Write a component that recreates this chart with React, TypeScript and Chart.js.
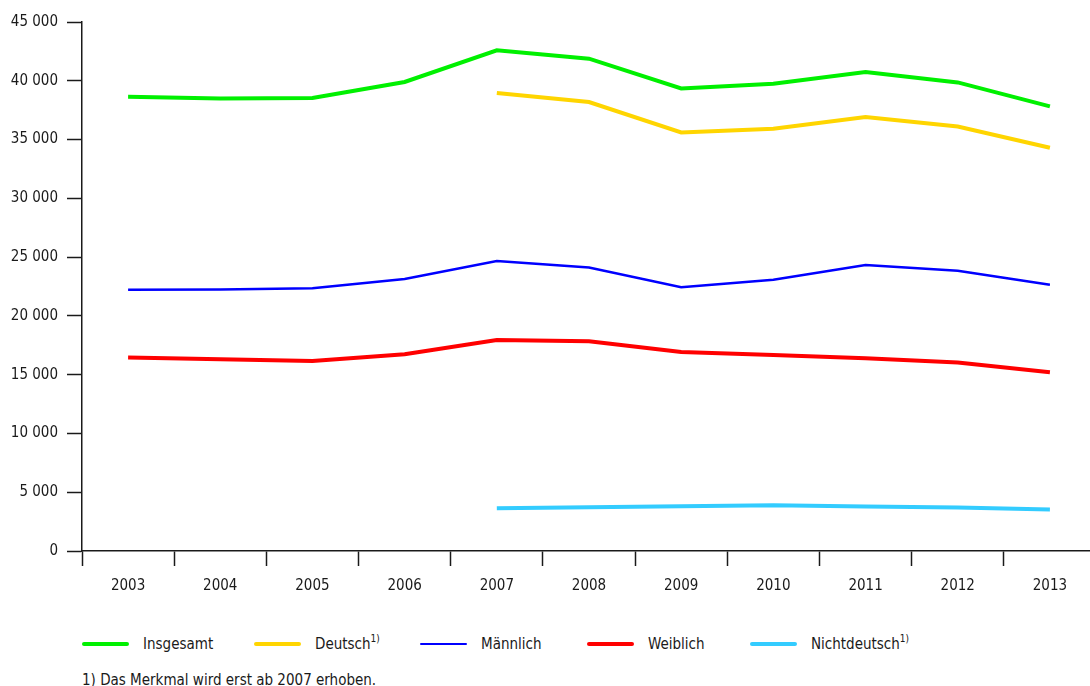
import React, { useEffect, useRef } from "react";
import { Chart, registerables } from "chart.js";

Chart.register(...registerables);

const years = ["2003", "2004", "2005", "2006", "2007", "2008", "2009", "2010", "2011", "2012", "2013"];
const insgesamt = [38640, 38500, 38530, 39900, 42590, 41880, 39350, 39750, 40750, 39860, 37820];
const deutsch = [null, null, null, null, 38960, 38190, 35600, 35920, 36910, 36110, 34300];
const maennlich = [22220, 22250, 22360, 23130, 24660, 24120, 22440, 23070, 24320, 23840, 22640];
const weiblich = [16450, 16310, 16165, 16735, 17950, 17840, 16930, 16680, 16390, 16030, 15200];
const nichtdeutsch = [null, null, null, null, 3630, 3720, 3800, 3890, 3790, 3700, 3520];
const yTicks = [0, 5000, 10000, 15000, 20000, 25000, 30000, 35000, 40000, 45000];

const FONT = "'DejaVu Sans Condensed', 'Liberation Sans Narrow', sans-serif";
const TEXT = "#1a1a1a";
const FONT_SIZE = 15;

const legendItems = [
  { label: "Insgesamt", note: false, color: "#00f000", width: 4, x: 82 },
  { label: "Deutsch", note: true, color: "#ffd500", width: 4, x: 254 },
  { label: "Männlich", note: false, color: "#0000ff", width: 2.5, x: 420 },
  { label: "Weiblich", note: false, color: "#ff0000", width: 4, x: 587 },
  { label: "Nichtdeutsch", note: true, color: "#33ccff", width: 4, x: 750 },
];

function formatThousands(v: number): string {
  const s = String(Math.round(v));
  return s.replace(/\B(?=(\d{3})+(?!\d))/g, " ");
}

export default function App() {
  const canvasRef = useRef<HTMLCanvasElement | null>(null);

  useEffect(() => {
    if (!canvasRef.current) return;
    const series = [
      { label: "Insgesamt", data: insgesamt, color: "#00f000", width: 4 },
      { label: "Deutsch", data: deutsch, color: "#ffd500", width: 4 },
      { label: "Männlich", data: maennlich, color: "#0000ff", width: 2.5 },
      { label: "Weiblich", data: weiblich, color: "#ff0000", width: 4 },
      { label: "Nichtdeutsch", data: nichtdeutsch, color: "#33ccff", width: 4 },
    ];
    const chart = new Chart(canvasRef.current, {
      type: "line",
      data: {
        labels: years,
        datasets: series.map((s) => ({
          label: s.label,
          data: s.data,
          borderColor: s.color,
          backgroundColor: s.color,
          borderWidth: s.width,
          pointRadius: 0,
          pointHoverRadius: 0,
          tension: 0,
          spanGaps: false,
          borderCapStyle: "butt" as const,
          borderJoinStyle: "miter" as const,
        })),
      },
      options: {
        animation: false,
        responsive: false,
        maintainAspectRatio: false,
        layout: { padding: { top: 22, right: 0, left: 0, bottom: 0 } },
        plugins: {
          legend: { display: false },
          tooltip: { enabled: false },
        },
        scales: {
          x: {
            type: "category",
            offset: true,
            grid: {
              offset: true,
              drawOnChartArea: false,
              drawTicks: true,
              tickLength: 15,
              tickColor: "#1a1a1a",
              tickWidth: 1.5,
            },
            border: { display: true, color: "#1a1a1a", width: 1.5 },
            ticks: {
              color: TEXT,
              font: { family: FONT, size: FONT_SIZE },
              padding: 11,
              maxRotation: 0,
              autoSkip: false,
            },
            afterFit: (scale: any) => {
              scale.height = 50;
            },
          },
          y: {
            min: 0,
            max: 45000,
            afterBuildTicks: (scale: any) => {
              scale.ticks = yTicks.map((v) => ({ value: v }));
            },
            grid: {
              drawOnChartArea: false,
              drawTicks: true,
              tickLength: 15,
              tickColor: "#1a1a1a",
              tickWidth: 1.5,
            },
            border: { display: true, color: "#1a1a1a", width: 1.5 },
            ticks: {
              color: TEXT,
              font: { family: FONT, size: FONT_SIZE },
              padding: 9,
              callback: (v: any) => formatThousands(Number(v)),
            },
            afterFit: (scale: any) => {
              scale.width = 82;
            },
          },
        },
      },
    });
    return () => chart.destroy();
  }, []);

  return (
    <div
      style={{
        position: "fixed",
        left: 0,
        top: 0,
        width: 1090,
        height: 686,
        overflow: "hidden",
        background: "#ffffff",
        fontFamily: FONT,
        color: TEXT,
      }}
    >
      <canvas
        ref={canvasRef}
        width={1096}
        height={601}
        style={{ position: "absolute", left: 0, top: 0, width: 1096, height: 601 }}
      />
      {legendItems.map((it) => (
        <div
          key={it.label}
          style={{
            position: "absolute",
            left: it.x,
            top: 631,
            height: 26,
            display: "flex",
            alignItems: "center",
            whiteSpace: "nowrap",
            fontSize: FONT_SIZE,
          }}
        >
          <span
            style={{
              display: "inline-block",
              width: 47,
              height: it.width,
              background: it.color,
              borderRadius: 2,
              marginRight: 14,
            }}
          />
          <span>
            {it.label}
            {it.note ? (
              <sup style={{ fontSize: 10, verticalAlign: "top", position: "relative", top: -2 }}>1)</sup>
            ) : null}
          </span>
        </div>
      ))}
      <div
        style={{
          position: "absolute",
          left: 82,
          top: 671,
          fontSize: FONT_SIZE,
          whiteSpace: "nowrap",
        }}
      >
        1) Das Merkmal wird erst ab 2007 erhoben.
      </div>
    </div>
  );
}
